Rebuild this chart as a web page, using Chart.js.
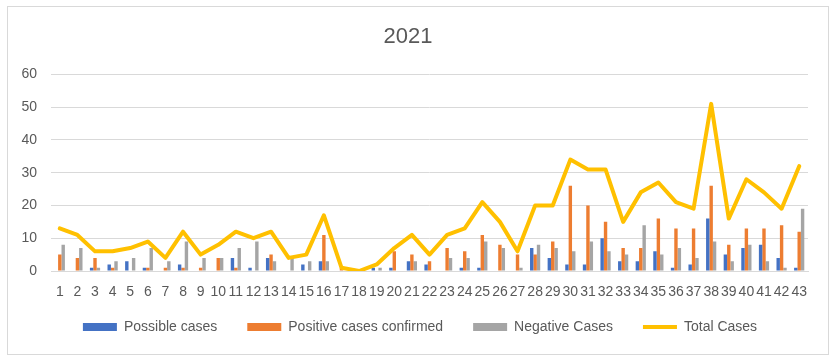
<!DOCTYPE html>
<html>
<head>
<meta charset="utf-8">
<script src="https://cdn.jsdelivr.net/npm/chart.js@4/dist/chart.umd.min.js"></script>
<style>
  html, body { margin: 0; padding: 0; background: #ffffff; }
  #wrap { position: relative; width: 837px; height: 360px; }
  #frame { position: absolute; left: 7px; top: 6px; width: 820px; height: 347px; border: 1px solid #D9D9D9; pointer-events: none; }
</style>
</head>
<body>
<div id="wrap">
  <canvas id="c" width="837" height="360"></canvas>
  <div id="frame"></div>
</div>
<script>
const categories = ['1','2','3','4','5','6','7','8','9','10','11','12','13','14','15','16','17','18','19','20','21','22','23','24','25','26','27','28','29','30','31','32','33','34','35','36','37','38','39','40','41','42','43'];
const possibleCases = [0,0,1,2,3,1,0,2,0,0,4,1,4,0,2,3,0,0,1,1,3,2,0,1,1,0,0,7,4,2,2,10,3,3,6,1,2,16,5,7,8,4,1];
const positiveConfirmed = [5,4,4,1,0,1,1,1,1,4,1,0,5,0,0,11,1,0,0,6,5,3,7,6,11,8,5,5,9,26,20,15,7,7,16,13,13,26,8,13,13,14,12];
const negativeCases = [8,7,1,3,4,7,3,9,4,4,7,9,3,4,3,3,0,0,1,0,3,0,4,4,9,7,1,8,7,6,9,6,5,14,5,7,4,9,3,8,3,1,19];
const totalCases = [13,11,6,6,7,9,4,12,5,8,12,10,12,4,5,17,1,0,2,7,11,5,11,13,21,15,6,20,20,34,31,31,15,24,27,21,19,51,16,28,24,19,32];
const yTicks = [0,10,20,30,40,50,60];

const FONT = "'Liberation Sans', Arial, sans-serif";
const TXT = '#595959';
const GRID = '#D9D9D9';

const legendShift = {
  id: 'legendShift',
  afterLayout(chart) {
    const l = chart.legend;
    if (!l) return;
    l.top -= 11; l.bottom -= 11;
    l.left += 12; l.right += 12;
  }
};

new Chart(document.getElementById('c'), {
  plugins: [legendShift],
  data: {
    labels: categories,
    datasets: [
      { type: 'bar', label: 'Possible cases', data: possibleCases, backgroundColor: '#4472C4', borderWidth: 0, pointStyle: 'rect', order: 1, categoryPercentage: 0.58, barPercentage: 1.0 },
      { type: 'bar', label: 'Positive cases confirmed', data: positiveConfirmed, backgroundColor: '#ED7D31', borderWidth: 0, pointStyle: 'rect', order: 1, categoryPercentage: 0.58, barPercentage: 1.0 },
      { type: 'bar', label: 'Negative Cases', data: negativeCases, backgroundColor: '#A5A5A5', borderWidth: 0, pointStyle: 'rect', order: 1, categoryPercentage: 0.58, barPercentage: 1.0 },
      { type: 'line', label: 'Total Cases', data: totalCases, borderColor: '#FFC000', backgroundColor: '#FFC000', borderWidth: 4, pointRadius: 0, pointHoverRadius: 0, pointStyle: 'line', tension: 0, fill: false, order: 0, borderJoinStyle: 'round', borderCapStyle: 'round' }
    ]
  },
  options: {
    responsive: false,
    animation: false,
    devicePixelRatio: 1,
    layout: { padding: { left: 8, right: 29, top: 6, bottom: 5 } },
    plugins: {
      title: { display: true, text: '2021', color: TXT, font: { family: FONT, size: 22, weight: 'normal' }, padding: { top: 18, bottom: 24 } },
      legend: {
        position: 'bottom',
        labels: {
          usePointStyle: true, pointStyleWidth: 34, boxHeight: 8, color: TXT,
          font: { family: FONT, size: 14 }, padding: 30,
          sort: (a, b) => a.datasetIndex - b.datasetIndex
        }
      },
      tooltip: { enabled: false }
    },
    scales: {
      x: {
        afterFit: (s) => { s.height = 30; },
        grid: { display: false, drawTicks: false },
        border: { display: true, color: GRID, width: 1 },
        ticks: { color: TXT, font: { family: FONT, size: 14 }, padding: 13, maxRotation: 0, autoSkip: false }
      },
      y: {
        min: 0, max: 60,
        afterFit: (s) => { s.width = 43; },
        afterBuildTicks: (s) => { s.ticks = yTicks.map(v => ({ value: v })); },
        grid: { color: GRID, drawTicks: false },
        border: { display: false },
        ticks: { color: TXT, font: { family: FONT, size: 14 }, padding: 14 }
      }
    }
  }
});
</script>
</body>
</html>
